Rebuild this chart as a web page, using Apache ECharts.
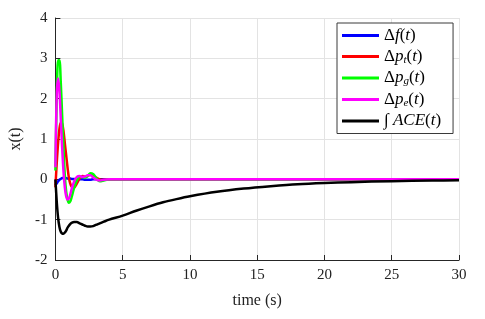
<!DOCTYPE html>
<html>
<head>
<meta charset="utf-8">
<script src="https://cdn.jsdelivr.net/npm/echarts@6/dist/echarts.min.js"></script>
<style>html,body{margin:0;padding:0;background:#fff}#c{width:485px;height:319px}</style>
</head>
<body>
<div id="c"></div>
<script>
var time = [0, 0.1, 0.2, 0.3, 0.4, 0.5, 0.6, 0.7, 0.8, 0.9, 1.0, 1.1, 1.2, 1.4, 1.6, 1.8, 2.0, 2.2, 2.4, 2.6, 2.8, 3.0, 3.3, 3.6, 4.0, 5, 6, 7, 8, 9, 10, 12, 14, 16, 18, 20, 22, 25, 28, 30];
var dF  = [-0.15, -0.1, -0.05, -0.01, 0.01, 0.03, 0.03, 0.03, 0.03, 0.02, 0.02, 0.02, 0.01, 0.01, 0.0, 0.0, 0.0, -0.01, -0.01, -0.01, 0.0, 0.0, 0, 0, 0, 0, 0, 0, 0, 0, 0, 0, 0, 0, 0, 0, 0, 0, 0, 0];
var dPt = [-0.2, 0.4, 0.9, 1.25, 1.4, 1.38, 1.2, 0.9, 0.6, 0.3, 0.05, -0.1, -0.18, -0.2, -0.1, 0.02, 0.08, 0.07, 0.08, 0.12, 0.1, 0.05, 0.0, -0.01, 0, 0, 0, 0, 0, 0, 0, 0, 0, 0, 0, 0, 0, 0, 0, 0];
var dPg = [0.22, 2.0, 2.95, 2.95, 2.4, 1.6, 0.8, 0.1, -0.3, -0.5, -0.58, -0.55, -0.45, -0.2, -0.02, 0.06, 0.06, 0.04, 0.08, 0.15, 0.13, 0.05, -0.05, -0.03, 0, 0, 0, 0, 0, 0, 0, 0, 0, 0, 0, 0, 0, 0, 0, 0];
var dPe = [0.3, 2.1, 2.5, 2.2, 1.5, 0.8, 0.2, -0.2, -0.42, -0.5, -0.48, -0.38, -0.25, -0.05, 0.06, 0.08, 0.06, 0.07, 0.1, 0.1, 0.05, 0.0, -0.03, -0.01, 0, 0, 0, 0, 0, 0, 0, 0, 0, 0, 0, 0, 0, 0, 0, 0];
var iACE = [0, -0.55, -0.95, -1.18, -1.3, -1.34, -1.35, -1.32, -1.27, -1.2, -1.15, -1.11, -1.08, -1.06, -1.06, -1.09, -1.12, -1.15, -1.17, -1.17, -1.16, -1.13, -1.09, -1.05, -1.0, -0.9, -0.78, -0.67, -0.57, -0.49, -0.42, -0.31, -0.23, -0.17, -0.12, -0.09, -0.07, -0.045, -0.03, -0.025];

var names = ['\u0394f(t)', '\u0394p_t(t)', '\u0394p_g(t)', '\u0394p_e(t)', '\u222BACE(t)'];
var richLabels = {};
richLabels[names[0]] = '{n|\u0394}{i|f}{n|(}{i|t}{n|)}';
richLabels[names[1]] = '{n|\u0394}{i|p}{s|t}{n|(}{i|t}{n|)}';
richLabels[names[2]] = '{n|\u0394}{i|p}{s|g}{n|(}{i|t}{n|)}';
richLabels[names[3]] = '{n|\u0394}{i|p}{s|e}{n|(}{i|t}{n|)}';
richLabels[names[4]] = '{n|\u222B }{i|ACE}{n|(}{i|t}{n|)}';
var colors = ['#0000ff', '#ff0000', '#00ff00', '#ff00ff', '#000000'];
var values = [dF, dPt, dPg, dPe, iACE];

function pairs(v) { return time.map(function (t, k) { return [t, v[k]]; }); }

var FONT = '"Liberation Serif", "DejaVu Serif", serif';
var chart = echarts.init(document.getElementById('c'), null, {renderer: 'canvas'});
chart.setOption({
  animation: false,
  backgroundColor: '#fff',
  grid: {left: 52, right: 26, top: 18, bottom: 59, containLabel: false},
  xAxis: {
    type: 'value', min: 0, max: 30, interval: 5,
    name: 'time (s)', nameLocation: 'middle', nameGap: 33,
    nameTextStyle: {fontFamily: FONT, fontSize: 16, color: '#222'},
    axisLine: {show: true, onZero: false, lineStyle: {color: '#262626', width: 1}},
    axisTick: {show: true, inside: true, length: 5, lineStyle: {color: '#262626'}},
    axisLabel: {fontFamily: FONT, fontSize: 15, color: '#222', margin: 8},
    splitLine: {show: true, lineStyle: {color: '#e3e3e3', width: 1}}
  },
  yAxis: {
    type: 'value', min: -2, max: 4, interval: 1,
    name: 'x(t)', nameLocation: 'middle', nameGap: 23,
    nameTextStyle: {fontFamily: FONT, fontSize: 16, color: '#222'},
    axisLine: {show: true, onZero: false, lineStyle: {color: '#262626', width: 1}},
    axisTick: {show: true, inside: true, length: 5, lineStyle: {color: '#262626'}},
    axisLabel: {fontFamily: FONT, fontSize: 15, color: '#222', margin: 8},
    splitLine: {show: true, lineStyle: {color: '#e3e3e3', width: 1}}
  },
  legend: {
    orient: 'vertical', left: 337, top: 23,
    data: names,
    icon: 'rect', itemWidth: 37, itemHeight: 3, itemGap: 4,
    padding: [4, 12, 4, 5],
    backgroundColor: '#fff', borderColor: '#3a3a3a', borderWidth: 1,
    formatter: function (n) { return richLabels[n]; },
    textStyle: {
      fontFamily: FONT, fontSize: 17, color: '#000',
      rich: {
        n: {fontFamily: FONT, fontSize: 17, lineHeight: 18, color: '#000'},
        i: {fontFamily: FONT, fontSize: 17, fontStyle: 'italic', lineHeight: 18, color: '#000'},
        s: {fontFamily: FONT, fontSize: 11, fontStyle: 'italic', lineHeight: 11, verticalAlign: 'bottom', color: '#000'}
      }
    }
  },
  series: values.map(function (v, k) {
    return {
      name: names[k], type: 'line', data: pairs(v), smooth: 0.3,
      showSymbol: false, symbol: 'none',
      lineStyle: {color: colors[k], width: 2.5},
      itemStyle: {color: colors[k]}
    };
  })
});
</script>
</body>
</html>
